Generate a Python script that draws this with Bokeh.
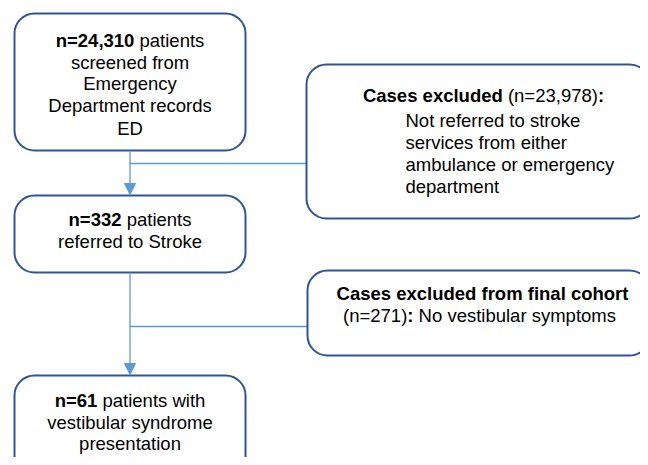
from bokeh.plotting import figure
from bokeh.models import Range1d, Arrow, NormalHead
from bokeh.embed import file_html
from bokeh.resources import INLINE
from bokeh.core.properties import value

# ---------------- content ----------------
box_main_1 = [[("n=24,310", True), (" patients", False)],
              [("screened from", False)],
              [("Emergency", False)],
              [("Department records", False)],
              [("ED", False)]]
box_main_2 = [[("n=332", True), (" patients", False)],
              [("referred to Stroke", False)]]
box_main_3 = [[("n=61", True), (" patients with", False)],
              [("vestibular syndrome", False)],
              [("presentation", False)]]
box_excl_1_head = [("Cases excluded", True), (" (n=23,978)", False), (":", True)]
box_excl_1_body = ["Not referred to stroke", "services from either",
                   "ambulance or emergency", "department"]
box_excl_2 = [[("Cases excluded from final cohort", True)],
              [("(n=271)", False), (":", True), (" No vestibular symptoms", False)]]

# ---------------- layout (image pixels) ----------------
W, H = 640, 457
FS = 18.5
FONT = "Liberation Sans"
BORDER = "#2F5597"
CONN = "#5B9BD5"

def Y(y):
    return H - y

REG = {' ': 278, '(': 333, ')': 333, ',': 278, ':': 278, '=': 584,
       'A': 667, 'C': 722, 'D': 722, 'E': 667, 'N': 722, 'S': 667,
       'a': 556, 'b': 556, 'c': 500, 'd': 556, 'e': 556, 'f': 278, 'g': 556,
       'h': 556, 'i': 222, 'k': 500, 'l': 222, 'm': 833, 'n': 556, 'o': 556,
       'p': 556, 'r': 333, 's': 500, 't': 278, 'u': 556, 'v': 500, 'w': 722,
       'x': 500, 'y': 500}
BOLD = {' ': 278, '(': 333, ')': 333, ',': 278, ':': 333, '=': 584,
        'C': 722, 'a': 556, 'b': 611, 'c': 556, 'd': 611, 'e': 556, 'f': 333,
        'h': 611, 'i': 278, 'l': 278, 'm': 889, 'n': 611, 'o': 611, 'r': 389,
        's': 556, 't': 333, 'u': 611, 'x': 556}
for d in "0123456789":
    REG[d] = 556
    BOLD[d] = 556

def tw(s, bold):
    tab = BOLD if bold else REG
    return sum(tab.get(ch, 556) for ch in s) * FS / 1000.0

reg_x, reg_y, reg_t = [], [], []
bold_x, bold_y, bold_t = [], [], []

def put_line(segs, y, cx=None, lx=None):
    total = sum(tw(s, b) for s, b in segs)
    x = lx if lx is not None else cx - total / 2.0
    for s, b in segs:
        stripped = s.lstrip(' ')
        off = tw(s[:len(s) - len(stripped)], b)
        tgt = (bold_x, bold_y, bold_t) if b else (reg_x, reg_y, reg_t)
        tgt[0].append(x + off)
        tgt[1].append(Y(y))
        tgt[2].append(stripped.rstrip(' '))
        x += tw(s, b)

CX = 129.5
for segs, y in zip(box_main_1, [40, 61.7, 83.3, 105, 128.3]):
    put_line(segs, y, cx=CX)
for segs, y in zip(box_main_2, [219, 241]):
    put_line(segs, y, cx=CX)
for segs, y in zip(box_main_3, [400, 422, 443]):
    put_line(segs, y, cx=CX)
put_line(box_excl_1_head, 95, cx=483)
for s, y in zip(box_excl_1_body, [120, 142, 164, 186]):
    put_line([(s, False)], y, lx=405)
for segs, y, cx in zip(box_excl_2, [293, 315], [482, 479]):
    put_line(segs, y, cx=cx)

p = figure(width=W, height=H, output_backend="svg", toolbar_location=None,
           x_range=Range1d(0, W), y_range=Range1d(0, H), min_border=0)
p.axis.visible = False
p.grid.visible = False
p.outline_line_color = None
p.background_fill_color = "white"
p.border_fill_color = "white"

# connectors
p.segment(x0=[CX, CX], y0=[Y(163), Y(326)], x1=[306, 307], y1=[Y(163), Y(326)],
          line_color=CONN, line_width=1.3)
head = dict(size=11, fill_color=CONN, line_color=CONN, line_width=1)
p.add_layout(Arrow(end=NormalHead(**head), x_start=CX, y_start=Y(150), x_end=CX, y_end=Y(194),
                   line_color=CONN, line_width=1.3))
p.add_layout(Arrow(end=NormalHead(**head), x_start=CX, y_start=Y(272), x_end=CX, y_end=Y(374),
                   line_color=CONN, line_width=1.3))

# boxes
lefts = [14, 14, 14, 306, 307]
rights = [245, 245, 245, 649, 649]
tops = [13, 195, 375, 64, 270]
bottoms = [150, 272, 485, 218, 355]
p.quad(left=lefts, right=rights, top=[Y(t) for t in tops], bottom=[Y(b) for b in bottoms],
       fill_color="white", line_color=BORDER, line_width=2, border_radius=20)

p.text(x=reg_x, y=reg_y, text=reg_t, text_font=value(FONT), text_font_size=f"{FS}px",
       text_baseline="middle", text_align="left", text_color="#000000")
p.text(x=bold_x, y=bold_y, text=bold_t, text_font=value(FONT), text_font_size=f"{FS}px",
       text_font_style="bold", text_baseline="middle", text_align="left", text_color="#000000")

open("out.html", "w").write(file_html(p, INLINE))
